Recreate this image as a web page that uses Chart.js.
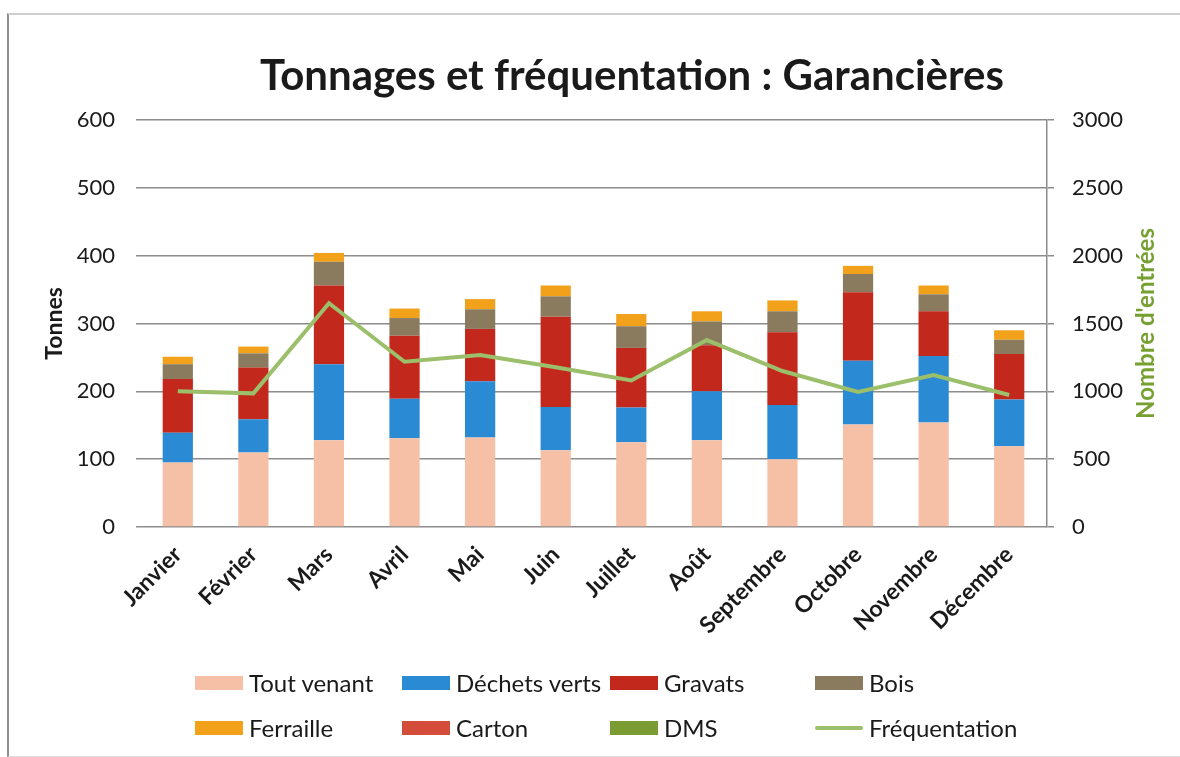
<!DOCTYPE html>
<html lang="fr">
<head>
<meta charset="utf-8">
<title>Tonnages et fréquentation : Garancières</title>
<script src="https://cdn.jsdelivr.net/npm/chart.js@4"></script>
<style>
  html, body { margin: 0; padding: 0; background: #fff; }
  #wrap { position: relative; width: 1180px; height: 757px; overflow: hidden; font-family: Lato, "Open Sans", sans-serif; }
  #frame { position: absolute; left: 7px; top: 13px; width: 1180px; height: 741px;
           border-left: 2px solid #8f8f8f; border-top: 2px solid #cfcfcf; border-bottom: 1px solid #dedede; pointer-events: none; }
  #chart { position: absolute; left: 0; top: 0; }
  #title { position: absolute; top: 49px; left: 632px; transform: translateX(-50%); white-space: nowrap;
           font-weight: 700; font-size: 42px; line-height: 1.2; color: #1a1a1a; }
  .legend-item { position: absolute; display: flex; align-items: center; font-size: 24px; color: #1a1a1a; white-space: nowrap; }
  .legend-swatch { width: 48px; height: 14px; margin-right: 6px; }
  .legend-line { width: 48px; height: 4px; margin-right: 6px; border-radius: 2px; }
</style>
</head>
<body>
<div id="wrap">
  <canvas id="chart" width="1180" height="757"></canvas>
  <div id="title">Tonnages et fréquentation : Garancières</div>
  <div id="legend"></div>
  <div id="frame"></div>
</div>
<script>
const MONTHS = ["Janvier", "Février", "Mars", "Avril", "Mai", "Juin", "Juillet", "Août", "Septembre", "Octobre", "Novembre", "Décembre"];

// tonnes par mois
const TOUT_VENANT = [95, 110, 128, 131, 132, 113, 125, 128, 100, 151, 154, 119];
const DECHETS_VERTS = [44, 49, 112, 58, 83, 64, 51, 72, 80, 94, 98, 69];
const GRAVATS = [79, 76, 116, 93, 77, 133, 88, 68, 107, 101, 66, 67];
const BOIS = [22, 21, 35, 26, 29, 30, 32, 35, 31, 27, 25, 21];
const FERRAILLE = [11, 10, 13, 14, 15, 16, 18, 15, 16, 12, 13, 14];
const CARTON = [0, 0, 0, 0, 0, 0, 0, 0, 0, 0, 0, 0];
const DMS = [0, 0, 0, 0, 0, 0, 0, 0, 0, 0, 0, 0];

// nombre d'entrées
const FREQUENTATION = [1000, 985, 1650, 1218, 1268, 1178, 1080, 1378, 1150, 995, 1120, 973];

const TONNES_TICKS = [0, 100, 200, 300, 400, 500, 600];
const ENTREES_TICKS = [0, 500, 1000, 1500, 2000, 2500, 3000];

const GRID = "#8c8c8c";
const INK = "#1a1a1a";
const GREEN_TITLE = "#77a033";

const bar = (label, data, color) => ({
  type: "bar",
  label,
  data,
  backgroundColor: color,
  yAxisID: "y",
  stack: "t",
  order: 1,
  barPercentage: 0.4,
  categoryPercentage: 1,
});

const datasets = [
  bar("Tout venant", TOUT_VENANT, "#f6c0a6"),
  bar("Déchets verts", DECHETS_VERTS, "#2a8ad3"),
  bar("Gravats", GRAVATS, "#c3281d"),
  bar("Bois", BOIS, "#8a7a5e"),
  bar("Ferraille", FERRAILLE, "#f1a11a"),
  bar("Carton", CARTON, "#d44c3a"),
  bar("DMS", DMS, "#7a9c32"),
  {
    type: "line",
    label: "Fréquentation",
    data: FREQUENTATION,
    borderColor: "#9bbf6a",
    borderWidth: 4,
    pointRadius: 0,
    tension: 0,
    yAxisID: "y2",
    order: 0,
  },
];

// titre de l'axe droit, lu de bas en haut
const rightTitle = {
  id: "rightTitle",
  afterDraw(chart) {
    const { ctx, chartArea } = chart;
    ctx.save();
    ctx.translate(chartArea.right + 99, (chartArea.top + chartArea.bottom) / 2);
    ctx.rotate(-Math.PI / 2);
    ctx.font = "700 24px Lato";
    ctx.fillStyle = GREEN_TITLE;
    ctx.textAlign = "center";
    ctx.textBaseline = "middle";
    ctx.fillText("Nombre d'entrées", 0, 0);
    ctx.restore();
  },
};

new Chart(document.getElementById("chart"), {
  data: { labels: MONTHS, datasets },
  plugins: [rightTitle],
  options: {
    responsive: false,
    animation: false,
    layout: { padding: { top: 120, bottom: 0, left: 0, right: 0 } },
    plugins: { legend: { display: false }, tooltip: { enabled: false } },
    scales: {
      x: {
        stacked: true,
        grid: { display: false },
        border: { display: false },
        ticks: { color: INK, font: { family: "Lato", size: 23, weight: "700" }, minRotation: 45, maxRotation: 45, padding: 6 },
        afterFit: (s) => { s.height = 230; },
      },
      y: {
        position: "left",
        stacked: true,
        min: 0,
        max: 600,
        afterBuildTicks: (s) => { s.ticks = TONNES_TICKS.map((v) => ({ value: v })); },
        grid: { color: GRID, lineWidth: 1.5, tickLength: 4 },
        border: { display: false },
        ticks: { color: INK, font: { family: "Lato", size: 22 }, padding: 21, callback: (v) => String(v) },
        title: { display: true, text: "Tonnes", color: INK, font: { family: "Lato", size: 23, weight: "700" }, padding: { top: 41, bottom: 0 } },
        afterFit: (s) => { s.width = 140; },
      },
      y2: {
        position: "right",
        min: 0,
        max: 3000,
        afterBuildTicks: (s) => { s.ticks = ENTREES_TICKS.map((v) => ({ value: v })); },
        grid: { drawOnChartArea: false, color: GRID, lineWidth: 1.5, tickLength: 7 },
        border: { display: true, color: GRID, width: 1.5 },
        ticks: { color: INK, font: { family: "Lato", size: 22 }, padding: 18, callback: (v) => String(v) },
        afterFit: (s) => { s.width = 133; },
      },
    },
  },
});

// légende sur deux rangées de quatre
const LEGEND_COLS = [195, 402, 610, 815];
const LEGEND_ROWS = [683, 728];
document.getElementById("legend").innerHTML = datasets
  .map((d, i) => {
    const left = LEGEND_COLS[i % 4];
    const top = LEGEND_ROWS[Math.floor(i / 4)] - 15;
    const mark = d.type === "line"
      ? `<span class="legend-line" style="background:${d.borderColor}"></span>`
      : `<span class="legend-swatch" style="background:${d.backgroundColor}"></span>`;
    return `<div class="legend-item" style="left:${left}px;top:${top}px">${mark}${d.label}</div>`;
  })
  .join("");
</script>
</body>
</html>
